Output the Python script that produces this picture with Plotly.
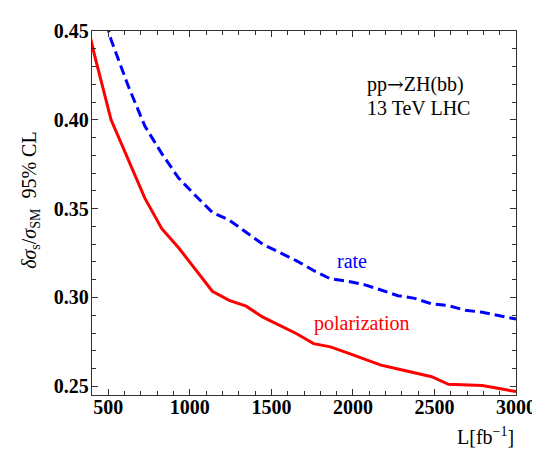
import plotly.graph_objects as go

# Luminosity grid (fb^-1)
lum_pol = [310, 414, 517, 621, 724, 828, 931, 1034, 1138, 1241, 1345, 1448, 1552, 1655,
           1759, 1862, 1966, 2069, 2172, 2276, 2379, 2483, 2586, 2690, 2793, 2897, 3000]
pol_vals = [0.478, 0.437, 0.400, 0.3774, 0.3559, 0.3387, 0.328, 0.3158, 0.3035, 0.2984,
            0.2951, 0.2889, 0.2843, 0.2796, 0.274, 0.2722, 0.2688, 0.2653, 0.2619, 0.2597,
            0.2575, 0.2554, 0.2511, 0.2508, 0.2504, 0.2487, 0.2470]

lum_rate = [414, 517, 621, 724, 828, 931, 1034, 1138, 1241, 1345, 1448, 1552, 1655,
            1759, 1862, 1966, 2069, 2172, 2276, 2379, 2483, 2586, 2690, 2793, 2897, 3000]
rate_vals = [0.479, 0.4451, 0.4193, 0.3965, 0.381, 0.3672, 0.3574, 0.3479, 0.3436, 0.3368,
             0.3299, 0.3253, 0.3206, 0.3152, 0.3105, 0.3092, 0.3072, 0.3042, 0.3010, 0.2995,
             0.2964, 0.2954, 0.2928, 0.2917, 0.2898, 0.2878]

x_ticks = [500, 1000, 1500, 2000, 2500, 3000]
y_ticks = [0.25, 0.30, 0.35, 0.40, 0.45]
y_ticklabels = ["0.25", "0.30", "0.35", "0.40", "0.45"]

FONT = "Liberation Serif"

fig = go.Figure()
fig.add_trace(go.Scatter(x=lum_rate, y=rate_vals, mode="lines",
                         line=dict(color="#0000FF", width=3, dash="10px,5px"),
                         showlegend=False))
fig.add_trace(go.Scatter(x=lum_pol, y=pol_vals, mode="lines",
                         line=dict(color="#FF0000", width=3),
                         showlegend=False))

axis_common = dict(showline=True, linecolor="#333333", linewidth=1.3, mirror="ticks",
                   showgrid=False, zeroline=False, ticks="inside", ticklen=6,
                   tickwidth=1, tickcolor="#333333",
                   tickfont=dict(family=FONT, size=20, color="black", weight="bold"))

fig.update_xaxes(range=[400, 3000], tickvals=x_ticks, ticklabelstandoff=-6,
                 minor=dict(ticks="inside", dtick=100, ticklen=4, tickcolor="#333333", showgrid=False),
                 **axis_common)
fig.update_yaxes(range=[0.2451, 0.45], tickvals=y_ticks, ticktext=y_ticklabels,
                 ticklabelstandoff=-2,
                 minor=dict(ticks="inside", dtick=0.01, ticklen=4, tickcolor="#333333", showgrid=False),
                 **axis_common)

fig.add_annotation(x=2072, y=0.4204,
                   text="pp<span style=\"font-family:'DejaVu Serif'\">→</span>ZH(bb)",
                   showarrow=False, xanchor="left",
                   yanchor="middle", font=dict(family=FONT, size=20, color="black"))
fig.add_annotation(x=2072, y=0.4064, text="13 TeV LHC", showarrow=False, xanchor="left",
                   yanchor="middle", font=dict(family=FONT, size=20, color="black"))
fig.add_annotation(x=1994, y=0.3204, text="rate", showarrow=False, xanchor="center",
                   font=dict(family=FONT, size=20, color="#0000FF"))
fig.add_annotation(x=2054, y=0.2852, text="polarization", showarrow=False, xanchor="center",
                   font=dict(family=FONT, size=20, color="#FF0000"))

fig.add_annotation(xref="paper", yref="paper", x=-0.1455, y=0.537, textangle=-90,
                   xanchor="center", yanchor="middle",
                   text="<i>δσ</i><sub>s</sub>/<i>σ</i><sub>SM</sub>  95% CL", showarrow=False,
                   font=dict(family=FONT, size=20, color="black"))
fig.add_annotation(xref="paper", yref="paper", x=1.0, y=-0.112, xanchor="right",
                   yanchor="middle",
                   text="L[fb<sup>−1</sup>]", showarrow=False,
                   font=dict(family=FONT, size=20, color="black"))

fig.update_layout(width=540, height=449, margin=dict(l=84, r=23, t=20, b=62),
                  plot_bgcolor="white", paper_bgcolor="white")

fig.write_html("out.html")
